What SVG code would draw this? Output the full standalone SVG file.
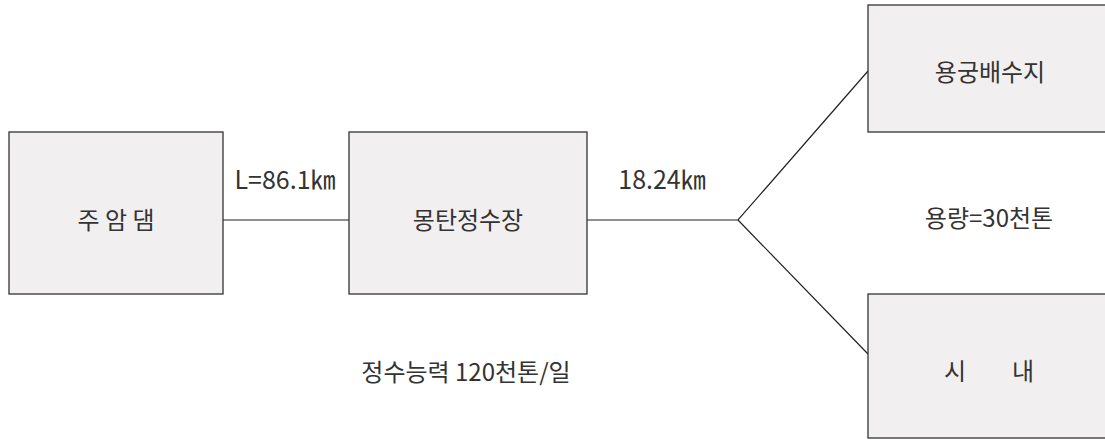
<svg xmlns="http://www.w3.org/2000/svg" width="1105" height="440" viewBox="0 0 1105 440">
<style>
.box{fill:#f1eff0;stroke:#333;stroke-width:1.3}
.ln{stroke:#222;stroke-width:1.2;fill:none}
text{font-family:"Noto Sans CJK KR","Noto Sans",sans-serif;font-size:24px;fill:#333;text-anchor:middle}
.lbl{font-size:25px}
</style>
<rect width="1105" height="440" fill="#fff"/>
<g id="connectors">
<line class="ln" x1="223" y1="220" x2="349" y2="220"/>
<polyline class="ln" points="587,220 738,220 868,71"/>
<line class="ln" x1="738" y1="220" x2="868" y2="354"/>
</g>
<g id="juam"><rect class="box" x="9" y="132" width="214" height="162"/><text x="116" y="229">주 암 댐</text></g>
<g id="mongtan"><rect class="box" x="349" y="132" width="238" height="162"/><text x="468" y="229">몽탄정수장</text></g>
<g id="yonggung"><rect class="box" x="868" y="5" width="245" height="127"/><text x="990" y="81">용궁배수지</text></g>
<g id="sinae"><rect class="box" x="868" y="294" width="245" height="144"/><text x="955" y="380">시</text><text x="1023" y="380">내</text></g>
<text class="lbl" x="285" y="189">L=86.1㎞</text>
<text class="lbl" x="662" y="189">18.24㎞</text>
<text x="989" y="227">용량=30천톤</text>
<text x="466" y="381">정수능력 120천톤/일</text>
</svg>
